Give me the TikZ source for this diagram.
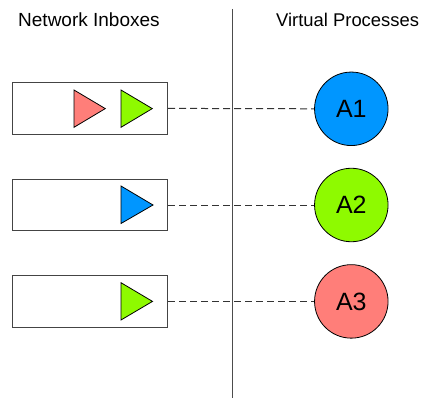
\documentclass[tikz,border=0pt]{standalone}
\usepackage{fontspec}
\setmainfont{Liberation Sans}
\definecolor{inboxline}{HTML}{444444}
\definecolor{procblue}{HTML}{0096FF}
\definecolor{procgreen}{HTML}{8EFA00}
\definecolor{procred}{HTML}{FF7E79}
\begin{document}
\begin{tikzpicture}[x=1pt,y=-1pt,
  inbox/.style={draw=inboxline, line width=1pt, minimum width=155.5pt, minimum height=51.3pt, inner sep=0pt},
  proc/.style={circle, draw=black, line width=0.8pt, minimum size=73.5pt, inner sep=0pt, font=\fontsize{25}{25}\selectfont},
  msg/.style={draw=black, line width=0.8pt, line join=miter},
  link/.style={draw=black!80, line width=1pt, dash pattern=on 7pt off 4pt},
  heading/.style={anchor=base west, inner sep=0pt, font=\fontsize{19}{22}\selectfont}
]
\useasboundingbox (0,0) rectangle (422,398);

% column headings and divider
\node[heading] (hin) at (18,27) {Network Inboxes};
\node[heading, font=\fontsize{18.4}{22}\selectfont] (hvp) at (276,27) {Virtual Processes};
\draw[draw=black!70, line width=1pt] (232,9) -- (232,398);

% inboxes
\node[inbox] (in1) at (89.8,108.4) {};
\node[inbox] (in2) at (89.8,205) {};
\node[inbox] (in3) at (89.8,301.4) {};

% queued messages
\filldraw[msg, fill=procred]   (74,90)   -- (105.3,108.6) -- (74,127.3)  -- cycle;
\filldraw[msg, fill=procgreen] (121,90)  -- (152.3,108.6) -- (121,127.3) -- cycle;
\filldraw[msg, fill=procblue]  (121,186) -- (153,205)     -- (121,223.5) -- cycle;
\filldraw[msg, fill=procgreen] (121,282.7) -- (152.5,301.4) -- (121,320) -- cycle;

% virtual processes
\node[proc, fill=procblue]  (a1) at (351.3,108.8) {A1};
\node[proc, fill=procgreen] (a2) at (351.3,205) {A2};
\node[proc, fill=procred]   (a3) at (351.3,301.4) {A3};

% inbox to process links
\draw[link] (in1.east) -- (a1.west);
\draw[link] (in2.east) -- (a2.west);
\draw[link] (in3.east) -- (a3.west);
\end{tikzpicture}
\end{document}
